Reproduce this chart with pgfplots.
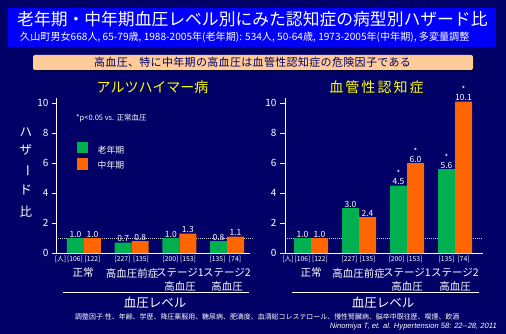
\documentclass[border=0pt]{standalone}
\usepackage{pgfplots}
\pgfplotsset{compat=1.18}
\usepackage{fontspec}
\setmainfont{Noto Sans CJK JP}
\newfontfamily\latinit{Liberation Sans}
\definecolor{bgnavy}{RGB}{0,0,102}
\definecolor{titleblue}{RGB}{0,0,250}
\definecolor{peach}{RGB}{255,204,153}
\definecolor{barg}{RGB}{0,176,80}
\definecolor{baro}{RGB}{255,102,0}
\definecolor{ttl}{RGB}{255,255,0}
\pgfplotsset{
  panel/.style={
    scale only axis, height=155pt, ymin=0, ymax=10.35,
    axis x line=bottom, axis y line=left,
    axis line style={-, white, line width=1pt},
    ytick={0,2,4,6,8,10}, xtick=\empty,
    tick align=outside, major tick length=5pt,
    tick style={white, line width=1pt},
    yticklabel style={white, font=\fontsize{10}{12}\selectfont},
    /pgf/number format/assume math mode=true,
    clip=false,
  },
  gbar/.style={ybar, bar width=17pt, bar shift=-8.5pt, fill=barg, draw=none,
    nodes near coords={\pgfmathprintnumber[fixed,fixed zerofill,precision=1]{\pgfplotspointmeta}},
    nodes near coords style={white, font=\fontsize{8.5}{9}\selectfont, inner sep=0.5pt, anchor=south, xshift=-8.5pt}},
  obar/.style={ybar, bar width=17pt, bar shift=8.5pt, fill=baro, draw=none,
    nodes near coords={\pgfmathprintnumber[fixed,fixed zerofill,precision=1]{\pgfplotspointmeta}},
    nodes near coords style={white, font=\fontsize{8.5}{9}\selectfont, inner sep=0.5pt, anchor=south, xshift=8.5pt}},
  refline/.style={densely dotted, line width=1pt, color=white!80!bgnavy, forget plot},
}
\begin{document}
\begin{tikzpicture}
\fill[bgnavy] (0,0) rectangle (506pt,-334pt);
\begin{scope}[x=1pt,y=-1pt]
\fill[titleblue] (8,8) rectangle (496,47);
\node[anchor=west, white, font=\fontsize{16.8}{18}\selectfont, inner sep=0] at (17,19) {老年期・中年期血圧レベル別にみた認知症の病型別ハザード比};
\node[anchor=west, white, font=\fontsize{10.1}{11}\selectfont, inner sep=0] at (20,37) {久山町男女668人, 65-79歳, 1988-2005年(老年期): 534人, 50-64歳, 1973-2005年(中年期), 多変量調整};
\fill[black!40!bgnavy, rounded corners=2pt] (35,57) rectangle (475,72);
\fill[peach, rounded corners=2pt] (33,55) rectangle (473,70);
\node[bgnavy, font=\fontsize{11}{12}\selectfont\addfontfeature{LetterSpace=3}, inner sep=0] at (252.5,62.5) {高血圧、特に中年期の高血圧は血管性認知症の危険因子である};
% panel titles
\node[ttl, font=\fontsize{14}{15}\selectfont, inner sep=0] at (152.5,87) {アルツハイマー病};
\node[ttl, font=\fontsize{14}{15}\selectfont\addfontfeature{LetterSpace=15}, inner sep=0] at (376.5,87.5) {血管性認知症};
% y label
\begin{scope}[every node/.style={white, font=\fontsize{12.5}{13}\selectfont, inner sep=0}]
\node at (26,132) {ハ};
\node at (26,150) {ザ};
\node[rotate=-90] at (26,171) {ー};
\node at (26,190) {ド};
\node at (26,212) {比};
\end{scope}
% significance note and legend
\node[anchor=west, white, font=\fontsize{7.5}{8}\selectfont, inner sep=0] at (76,118.5) {*p<0.05 vs. 正常血圧};
\fill[barg] (77,142) rectangle (88,153.5);
\fill[baro] (77,158) rectangle (88,169.5);
\node[anchor=west, white, font=\fontsize{8.8}{9}\selectfont, inner sep=0] at (97.5,150) {老年期};
\node[anchor=west, white, font=\fontsize{8.8}{9}\selectfont, inner sep=0] at (97.5,165.5) {中年期};
% number of subjects
\begin{scope}[every node/.style={white, font=\fontsize{6.8}{7}\selectfont, inner sep=0}]
\node at (60.5,259.5) {[人]};
\node at (75,259.5) {[106]}; \node at (92.5,259.5) {[122]};
\node at (122.5,259.5) {[227]}; \node at (141,259.5) {[135]};
\node at (170.5,259.5) {[200]}; \node at (188,259.5) {[153]};
\node at (217.5,259.5) {[135]}; \node at (235,259.5) {[74]};
\node at (288,259.5) {[人]};
\node at (302.5,259.5) {[106]}; \node at (320,259.5) {[122]};
\node at (349.5,259.5) {[227]}; \node at (367.5,259.5) {[135]};
\node at (396.5,259.5) {[200]}; \node at (414.5,259.5) {[153]};
\node at (446.5,259.5) {[135]}; \node at (463.5,259.5) {[74]};
\end{scope}
% categories
\begin{scope}[every node/.style={white, font=\fontsize{10.5}{11}\selectfont, inner sep=0}]
\node at (83,273) {正常};
\node at (132,273) {高血圧前症};
\node at (180,273) {ステージ1};
\node at (180,287) {高血圧};
\node at (227,273) {ステージ2};
\node at (227,287) {高血圧};
\node at (311,273) {正常};
\node at (358.5,273) {高血圧前症};
\node at (407,273) {ステージ1};
\node at (407,287) {高血圧};
\node at (455,273) {ステージ2};
\node at (455,287) {高血圧};
\end{scope}
\draw[white, line width=1pt] (63,292.5) -- (249,292.5);
\draw[white, line width=1pt] (292,292.5) -- (479,292.5);
\node[white, font=\fontsize{12.5}{13}\selectfont, inner sep=0] at (155,303) {血圧レベル};
\node[white, font=\fontsize{12.5}{13}\selectfont, inner sep=0] at (383,303) {血圧レベル};
\node[anchor=west, white, font=\fontsize{6.95}{8}\selectfont, inner sep=0] at (75,316.5) {調整因子:性、年齢、学歴、降圧薬服用、糖尿病、肥満度、血清総コレステロール、慢性腎臓病、脳卒中既往歴、喫煙、飲酒};
\node[anchor=east, white, font=\latinit\itshape\fontsize{7.6}{8}\selectfont, inner sep=0] at (497,327) {Ninomiya T, et. al. Hypertension 58: 22--28, 2011};
\end{scope}

\begin{axis}[panel, at={(57pt,-253pt)}, anchor=south west, width=193pt, xmin=-0.566, xmax=3.482]
\addplot[refline] coordinates {(-0.545,1) (3.545,1)};
\addplot[gbar] coordinates {(0,1.0) (1,0.7) (2,1.0) (3,0.8)};
\addplot[obar] coordinates {(0,1.0) (1,0.8) (2,1.3) (3,1.1)};
\end{axis}

\begin{axis}[panel, at={(285pt,-253pt)}, anchor=south west, width=198pt, xmin=-0.5417, xmax=3.5833]
\addplot[refline] coordinates {(-0.5,1) (3.58,1)};
\addplot[gbar] coordinates {(0,1.0) (1,3.0) (2,4.5) (3,5.6)};
\addplot[obar] coordinates {(0,1.0) (1,2.4) (2,6.0) (3,10.1)};
\node[white, font=\fontsize{8}{8}\selectfont, inner sep=0, xshift=-8.5pt, yshift=12pt] at (axis cs:2,4.5) {*};
\node[white, font=\fontsize{8}{8}\selectfont, inner sep=0, xshift=8.5pt, yshift=12pt] at (axis cs:2,6.0) {*};
\node[white, font=\fontsize{8}{8}\selectfont, inner sep=0, xshift=-8.5pt, yshift=12pt] at (axis cs:3,5.6) {*};
\node[white, font=\fontsize{8}{8}\selectfont, inner sep=0, xshift=8.5pt, yshift=12pt] at (axis cs:3,10.1) {*};
\end{axis}
\end{tikzpicture}
\end{document}
